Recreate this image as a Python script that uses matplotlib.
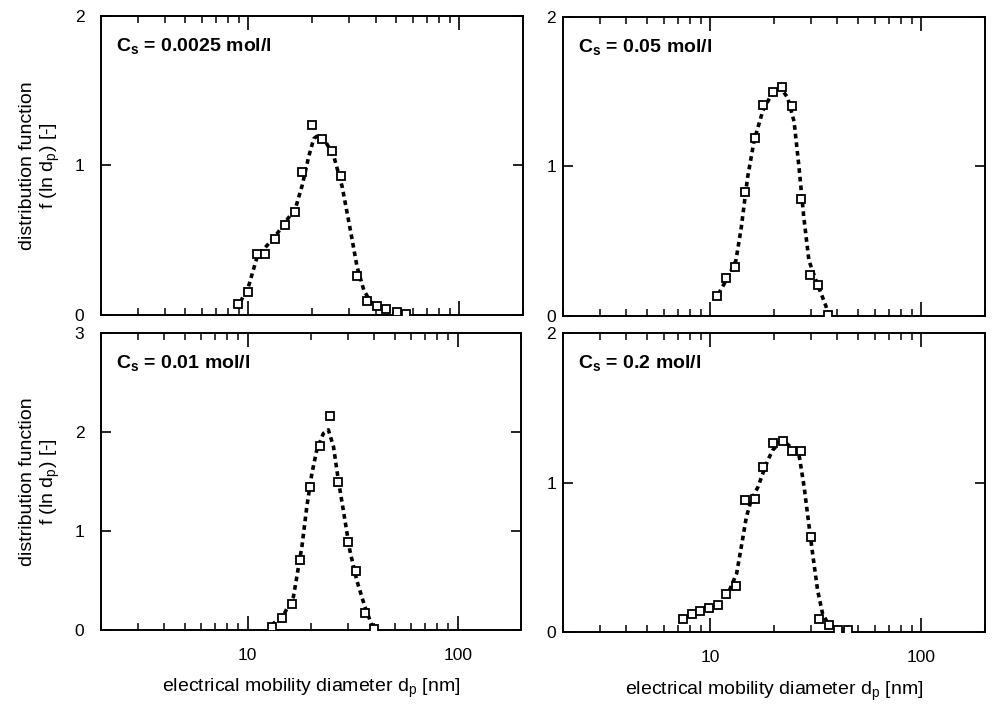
import matplotlib
matplotlib.use("Agg")
import matplotlib.pyplot as plt
from matplotlib.ticker import LogLocator, NullFormatter, FixedLocator, FixedFormatter

plt.rcParams['font.family'] = ['Liberation Sans Narrow', 'Liberation Sans', 'DejaVu Sans']
plt.rcParams['mathtext.fontset'] = 'custom'
plt.rcParams['mathtext.rm'] = 'Liberation Sans'
plt.rcParams['mathtext.bf'] = 'Liberation Sans:bold'

# --- data (d_p in nm, f(ln d_p)) ---
# C_s = 0.0025 mol/l
d_a = [8.9, 9.9, 11.0, 12.0, 13.4, 14.9, 16.6, 18.0, 20.1, 22.2, 24.8, 27.5, 32.8, 36.5, 40.5, 45.1, 50.5, 56.1]
f_a = [0.074, 0.156, 0.41, 0.41, 0.507, 0.605, 0.69, 0.957, 1.27, 1.18, 1.10, 0.93, 0.263, 0.094, 0.06, 0.038, 0.018, 0.007]
fit_d_a = [9.17, 10.0, 11.0, 12.3, 13.7, 15.2, 16.7, 18.0, 19.3, 20.4, 21.5, 23.2, 25.4, 27.8, 30.4, 32.7, 35.2, 37.8, 42.2, 48.9, 56.5]
fit_f_a = [0.089, 0.19, 0.39, 0.468, 0.546, 0.635, 0.713, 0.87, 1.06, 1.18, 1.204, 1.16, 1.06, 0.858, 0.569, 0.323, 0.167, 0.089, 0.045, 0.018, 0.007]

# C_s = 0.05 mol/l
d_b = [10.8, 11.9, 13.1, 14.6, 16.2, 17.7, 19.7, 21.9, 24.3, 26.8, 29.7, 32.4, 36.0]
f_b = [0.134, 0.25, 0.323, 0.825, 1.186, 1.409, 1.494, 1.527, 1.40, 0.783, 0.27, 0.205, 0.007]
fit_d_b = [10.9, 12.1, 13.2, 14.0, 15.0, 16.1, 17.7, 19.3, 21.5, 23.2, 24.9, 26.3, 27.7, 29.3, 32.1, 34.5, 36.4]
fit_f_b = [0.145, 0.256, 0.368, 0.59, 0.925, 1.17, 1.37, 1.47, 1.523, 1.46, 1.30, 0.99, 0.658, 0.368, 0.212, 0.10, 0.011]

# C_s = 0.01 mol/l
d_c = [13.1, 14.6, 16.3, 17.8, 19.8, 22.0, 24.5, 27.0, 30.0, 32.6, 36.1, 40.0]
f_c = [0.033, 0.118, 0.262, 0.71, 1.44, 1.855, 2.157, 1.495, 0.884, 0.598, 0.168, 0.007]
fit_d_c = [13.0, 14.8, 16.5, 18.1, 19.1, 20.2, 21.3, 22.9, 24.2, 25.6, 27.0, 28.5, 30.6, 33.0, 36.1, 39.5]
fit_f_c = [0.05, 0.151, 0.336, 0.84, 1.243, 1.58, 1.815, 1.983, 2.02, 1.85, 1.51, 1.21, 0.806, 0.504, 0.235, 0.017]

# C_s = 0.2 mol/l
d_d = [7.38, 8.17, 8.91, 9.82, 10.9, 11.9, 13.2, 14.6, 16.2, 17.8, 19.7, 22.0, 24.4, 27.0, 29.9, 32.8, 36.3, 40.3, 44.7]
f_d = [0.085, 0.118, 0.141, 0.163, 0.183, 0.257, 0.308, 0.882, 0.893, 1.104, 1.265, 1.278, 1.212, 1.212, 0.636, 0.085, 0.045, 0.011, 0.011]
fit_d_d = [12.3, 13.3, 14.0, 14.8, 15.6, 16.8, 17.7, 18.7, 19.7, 21.2, 22.8, 24.5, 26.4, 27.8, 29.1, 30.5, 32.2, 34.0, 36.5, 40.0]
fit_f_d = [0.279, 0.391, 0.569, 0.77, 0.882, 0.971, 1.06, 1.149, 1.216, 1.265, 1.265, 1.228, 1.171, 0.971, 0.748, 0.525, 0.279, 0.123, 0.045, 0.016]

labels = ['0.0025', '0.05', '0.01', '0.2']
ymax = [2, 2, 3, 2]

fig = plt.figure(figsize=(9.92, 7.11), dpi=100)
rects = [[0.1018, 0.557, 0.4254, 0.4205],
         [0.5675, 0.556, 0.4254, 0.4205],
         [0.1018, 0.114, 0.4234, 0.4180],
         [0.5675, 0.111, 0.4254, 0.4205]]
series = [(d_a, f_a, fit_d_a, fit_f_a), (d_b, f_b, fit_d_b, fit_f_b),
          (d_c, f_c, fit_d_c, fit_f_c), (d_d, f_d, fit_d_d, fit_f_d)]

for i, (rect, (d, f, fd, ff)) in enumerate(zip(rects, series)):
    ax = fig.add_axes(rect)
    ax.set_xscale('log')
    ax.plot(fd, ff, color='black', lw=2.6, linestyle=(0, (1.3, 1.1)), zorder=2)
    ax.plot(d, f, linestyle='none', marker='s', ms=6, mfc='white', mec='black', mew=1.3, zorder=3)
    ax.set_xlim(2, 200)
    ax.set_ylim(0, ymax[i])
    ax.yaxis.set_major_locator(FixedLocator(list(range(ymax[i] + 1))))
    ax.xaxis.set_major_locator(FixedLocator([10, 100]))
    ax.xaxis.set_minor_locator(LogLocator(base=10, subs=range(2, 10)))
    ax.xaxis.set_minor_formatter(NullFormatter())
    ax.tick_params(axis='x', which='major', direction='in', top=True, length=10, width=1.2, labelsize=12.5, pad=13)
    ax.tick_params(axis='x', which='minor', direction='in', top=True, length=5, width=1.1)
    ax.tick_params(axis='y', which='major', direction='in', right=True, length=7, width=1.2, labelsize=12.5,
                   pad=12 if i % 2 == 0 else 5)
    if i < 2:
        ax.tick_params(axis='x', labelbottom=False)
    else:
        ax.xaxis.set_major_formatter(FixedFormatter(['10', '100']))
        ax.set_xlabel(r'electrical mobility diameter d$_{\rm p}$ [nm]', fontsize=14, labelpad=10)
    if i % 2 == 0:
        ax.set_ylabel('distribution function\n' + r'f (ln d$_{\rm p}$) [-]', fontsize=14, labelpad=9)
    for s in ax.spines.values():
        s.set_linewidth(1.4)
    ax.text(0.035, 0.93, r'$\mathbf{C}_{\mathbf{s}}$ = ' + labels[i] + ' mol/l', transform=ax.transAxes,
            fontsize=14, fontweight='bold', family='Liberation Sans', va='top', ha='left')

fig.savefig('out.png', dpi=100)
